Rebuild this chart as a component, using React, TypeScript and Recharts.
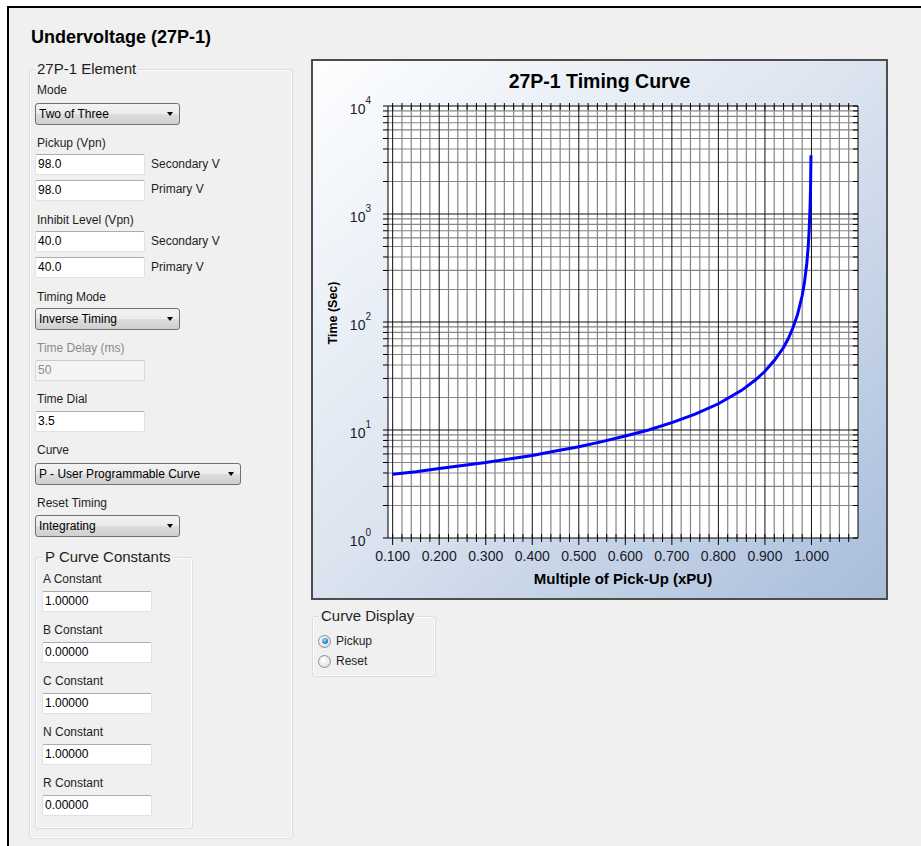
import React from 'react';
import { LineChart, Line, XAxis, YAxis, ReferenceLine, CartesianGrid } from 'recharts';

// ---- data ----
const pickupMultiples = [0.10, 0.15, 0.20, 0.25, 0.30, 0.35, 0.40, 0.45, 0.50, 0.55, 0.60, 0.65, 0.70, 0.75, 0.80, 0.85, 0.88, 0.90, 0.92, 0.94, 0.95, 0.96, 0.97, 0.98, 0.985, 0.99, 0.993, 0.995, 0.997, 0.998, 0.999];
const timeSeconds = [3.9, 4.1, 4.4, 4.7, 5.0, 5.4, 5.8, 6.4, 7.0, 7.8, 8.8, 10.0, 11.7, 14.0, 17.5, 23.3, 29.2, 35, 44, 58, 70, 88, 117, 175, 233, 350, 500, 700, 1170, 1750, 3500];

// ---- axes / grid ----
const xDomain = [0.09, 1.1];
const xGridMajor = [0.1, 0.2, 0.3, 0.4, 0.5, 0.6, 0.7, 0.8, 0.9, 1.0];
const xTickLabels = ['0.100', '0.200', '0.300', '0.400', '0.500', '0.600', '0.700', '0.800', '0.900', '1.000'];
const xGridMinor = [0.12, 0.14, 0.16, 0.18, 0.22, 0.24, 0.26, 0.28, 0.32, 0.34, 0.36, 0.38, 0.42, 0.44, 0.46, 0.48, 0.52, 0.54, 0.56, 0.58, 0.62, 0.64, 0.66, 0.68, 0.72, 0.74, 0.76, 0.78, 0.82, 0.84, 0.86, 0.88, 0.92, 0.94, 0.96, 0.98, 1.02, 1.04, 1.06, 1.08];
const yDomain = [1, 10000];
const yDecades = [1, 10, 100, 1000, 10000];
const yTickExponents = ['0', '1', '2', '3', '4'];
const yGridMajor = [10, 100, 1000];
const yGridMinor = [2, 3, 4, 5, 6, 7, 8, 9, 20, 30, 40, 50, 60, 70, 80, 90, 200, 300, 400, 500, 600, 700, 800, 900, 2000, 3000, 4000, 5000, 6000, 7000, 8000, 9000];

const chartData = pickupMultiples.map((m, i) => ({ m, t: timeSeconds[i] }));
const xTicks = [...xGridMajor, ...xGridMinor].sort((a, b) => a - b);
const yTicks = [...yDecades, ...yGridMinor].sort((a, b) => a - b);

const FONT = '"Liberation Sans", Arial, sans-serif';
const TXT = '#1e1e1e';

const idxIn = (arr: number[], v: number) => arr.findIndex((a) => Math.abs(a - v) < 1e-6);

function BottomTick(props: any) {
  const { x, y, payload } = props;
  const i = idxIn(xGridMajor, payload.value);
  const major = i >= 0;
  return (
    <g>
      <line x1={x} x2={x} y1={y - 4} y2={y + (major ? 7 : 4)} stroke="#000" strokeWidth={1} />
      {major && (
        <text x={x} y={y + 23} textAnchor="middle" fontFamily={FONT} fontSize={14} fill="#1a1a2a">
          {xTickLabels[i]}
        </text>
      )}
    </g>
  );
}

function TopTick(props: any) {
  const { x, y } = props;
  return <line x1={x} x2={x} y1={y - 3} y2={y + 4} stroke="#000" strokeWidth={1} />;
}

function LeftTick(props: any) {
  const { x, y, payload } = props;
  const i = idxIn(yDecades, payload.value);
  return (
    <g>
      <line x1={x - 5} x2={x} y1={y} y2={y} stroke="#000" strokeWidth={1} />
      {i >= 0 && (
        <text x={x - 17} y={y + 7.5} textAnchor="end" fontFamily={FONT} fontSize={14} fill="#1a1a2a">
          <tspan>10</tspan>
          <tspan dy={-10} fontSize={10}>{yTickExponents[i]}</tspan>
        </text>
      )}
    </g>
  );
}

function RightTick(props: any) {
  const { x, y } = props;
  return <line x1={x - 5} x2={x} y1={y} y2={y} stroke="#000" strokeWidth={1} />;
}

function Lbl({ x, cy, text, color = TXT, size = 12 }: any) {
  return (
    <div style={{ position: 'absolute', left: x, top: cy - 8, height: 16, lineHeight: '16px', fontSize: size, fontFamily: FONT, color, whiteSpace: 'nowrap' }}>
      {text}
    </div>
  );
}

function TextBox({ x, y, w = 110, h = 21, value, disabled = false }: any) {
  return (
    <div
      style={{
        position: 'absolute', left: x, top: y, width: w, height: h, boxSizing: 'border-box',
        background: disabled ? '#f4f4f4' : '#ffffff',
        border: '1px solid ' + (disabled ? '#d9d9d9' : '#dde2e8'),
        borderTopColor: disabled ? '#cccccc' : '#abadb3',
        borderRadius: 2, fontFamily: FONT, fontSize: 12, lineHeight: h - 2 + 'px', paddingLeft: 2,
        color: disabled ? '#8d8d8d' : '#000', whiteSpace: 'nowrap',
      }}
    >
      {value}
    </div>
  );
}

function Combo({ x, y, w, h = 22, value }: any) {
  return (
    <div
      style={{
        position: 'absolute', left: x, top: y, width: w, height: h, boxSizing: 'border-box',
        border: '1px solid #707070', borderRadius: 3,
        background: 'linear-gradient(to bottom, #f3f3f3 0%, #ebebeb 50%, #dddddd 51%, #cfcfcf 100%)',
        fontFamily: FONT, fontSize: 12, lineHeight: h - 2 + 'px', paddingLeft: 3, color: '#000', whiteSpace: 'nowrap',
      }}
    >
      {value}
      <div
        style={{
          position: 'absolute', right: 6, top: (h - 2) / 2 - 2, width: 0, height: 0,
          borderLeft: '3.5px solid transparent', borderRight: '3.5px solid transparent', borderTop: '4px solid #000',
        }}
      />
    </div>
  );
}

function GroupBox({ x, y, w, h, title, tx }: any) {
  return (
    <div style={{ position: 'absolute', left: x, top: y, width: w, height: h, boxSizing: 'border-box', border: '1px solid #d5dfe5', borderRadius: 3, boxShadow: 'inset 0 0 0 1px #fbfcfd' }}>
      <div style={{ position: 'absolute', left: tx, top: -11, height: 20, lineHeight: '20px', padding: '0 2px', background: '#f0f0f0', fontFamily: FONT, fontSize: 15, color: TXT, whiteSpace: 'nowrap' }}>
        {title}
      </div>
    </div>
  );
}

function Radio({ x, cy, label, checked }: any) {
  return (
    <div>
      <div
        style={{
          position: 'absolute', left: x, top: cy - 6.5, width: 13, height: 13, boxSizing: 'border-box', borderRadius: '50%',
          border: '1px solid #8e8f8f', background: 'radial-gradient(circle at 40% 40%, #ffffff 0%, #e6e6e6 60%, #cfcfcf 100%)',
        }}
      >
        {checked && (
          <div style={{ position: 'absolute', left: 2.5, top: 2.5, width: 6, height: 6, borderRadius: '50%', background: 'radial-gradient(circle at 40% 35%, #9ee0ff 0%, #2d8bd4 55%, #0f4f8c 100%)' }} />
        )}
      </div>
      <Lbl x={x + 18} cy={cy} text={label} />
    </div>
  );
}

export default function App() {
  return (
    <div style={{ position: 'absolute', left: 0, top: 0, width: 921, height: 846, overflow: 'hidden', background: '#ffffff' }}>
      <div style={{ position: 'absolute', left: 7, top: 6, right: 0, bottom: 0, background: '#f0f0f0', borderLeft: '2px solid #000', borderTop: '2px solid #000' }} />

      {/* page title */}
      <div style={{ position: 'absolute', left: 31, top: 27, height: 20, lineHeight: '20px', fontFamily: FONT, fontSize: 18, fontWeight: 'bold', color: '#000', whiteSpace: 'nowrap' }}>
        Undervoltage (27P-1)
      </div>

      {/* element group */}
      <GroupBox x={29} y={69} w={264} h={770} title="27P-1 Element" tx={5} />
      <Lbl x={37} cy={90} text="Mode" />
      <Combo x={35} y={103} w={145} value="Two of Three" />

      <Lbl x={37} cy={143} text="Pickup (Vpn)" />
      <TextBox x={35} y={154} value="98.0" />
      <Lbl x={151} cy={164} text="Secondary V" />
      <TextBox x={35} y={180} value="98.0" />
      <Lbl x={151} cy={189} text="Primary V" />

      <Lbl x={37} cy={220} text="Inhibit Level (Vpn)" />
      <TextBox x={35} y={231} value="40.0" />
      <Lbl x={151} cy={241} text="Secondary V" />
      <TextBox x={35} y={257} value="40.0" />
      <Lbl x={151} cy={267} text="Primary V" />

      <Lbl x={37} cy={297} text="Timing Mode" />
      <Combo x={35} y={308} w={145} value="Inverse Timing" />

      <Lbl x={37} cy={348} text="Time Delay (ms)" color="#8a8a8a" />
      <TextBox x={35} y={360} value="50" disabled />

      <Lbl x={37} cy={399} text="Time Dial" />
      <TextBox x={35} y={411} value="3.5" />

      <Lbl x={37} cy={450} text="Curve" />
      <Combo x={35} y={463} w={206} value="P - User Programmable Curve" />

      <Lbl x={37} cy={503} text="Reset Timing" />
      <Combo x={35} y={515} w={145} value="Integrating" />

      {/* P curve constants */}
      <GroupBox x={35} y={557} w={158} h={272} title="P Curve Constants" tx={7} />
      <Lbl x={43} cy={579} text="A Constant" />
      <TextBox x={42} y={591} value="1.00000" />
      <Lbl x={43} cy={630} text="B Constant" />
      <TextBox x={42} y={642} value="0.00000" />
      <Lbl x={43} cy={681} text="C Constant" />
      <TextBox x={42} y={693} value="1.00000" />
      <Lbl x={43} cy={732} text="N Constant" />
      <TextBox x={42} y={744} value="1.00000" />
      <Lbl x={43} cy={783} text="R Constant" />
      <TextBox x={42} y={795} value="0.00000" />

      {/* chart panel */}
      <div
        style={{
          position: 'absolute', left: 311, top: 59, width: 577, height: 541, boxSizing: 'border-box',
          border: '2px solid #4d4d4d',
          background: 'linear-gradient(to bottom right, #fdfeff 0%, #dae3ef 50%, #a8bddb 100%)',
        }}
      />
      <div style={{ position: 'absolute', left: 311, top: 59, width: 577, height: 541 }}>
        <LineChart width={577} height={541} data={chartData} margin={{ top: 46, right: 29, bottom: 61, left: 76 }}>
          <CartesianGrid fill="#ffffff" horizontal={false} vertical={false} />
          {xGridMinor.map((v) => (
            <ReferenceLine key={'xm' + v} x={v} stroke="#858585" strokeWidth={1.2} />
          ))}
          {yGridMinor.map((v) => (
            <ReferenceLine key={'ym' + v} y={v} stroke="#858585" strokeWidth={1.2} />
          ))}
          {xGridMajor.map((v) => (
            <ReferenceLine key={'xM' + v} x={v} stroke="#111111" strokeWidth={1} />
          ))}
          {yGridMajor.map((v) => (
            <ReferenceLine key={'yM' + v} y={v} stroke="#111111" strokeWidth={1} />
          ))}
          <XAxis
            dataKey="m" type="number" domain={xDomain} ticks={xTicks} interval={0} allowDataOverflow
            tick={<BottomTick />} tickLine={false} tickSize={0} tickMargin={0} height={1}
            axisLine={{ stroke: '#000', strokeWidth: 1 }}
          />
          <XAxis
            xAxisId="top" dataKey="m" orientation="top" type="number" domain={xDomain} ticks={xTicks} interval={0} allowDataOverflow
            tick={<TopTick />} tickLine={false} tickSize={0} tickMargin={0} height={1}
            axisLine={{ stroke: '#000', strokeWidth: 1 }}
          />
          <YAxis
            dataKey="t" type="number" scale="log" domain={yDomain} ticks={yTicks} interval={0} allowDataOverflow
            tick={<LeftTick />} tickLine={false} tickSize={0} tickMargin={0} width={1}
            axisLine={{ stroke: '#000', strokeWidth: 1 }}
          />
          <YAxis
            yAxisId="right" dataKey="t" orientation="right" type="number" scale="log" domain={yDomain} ticks={yTicks} interval={0} allowDataOverflow
            tick={<RightTick />} tickLine={false} tickSize={0} tickMargin={0} width={1}
            axisLine={{ stroke: '#000', strokeWidth: 1 }}
          />
          <Line type="linear" dataKey="t" stroke="#0000ff" strokeWidth={3} dot={false} activeDot={false} isAnimationActive={false} />
        </LineChart>
      </div>

      {/* chart texts */}
      <div style={{ position: 'absolute', left: 311, top: 70, width: 577, height: 22, lineHeight: '22px', textAlign: 'center', fontFamily: FONT, fontSize: 19.5, fontWeight: 'bold', color: '#000' }}>
        27P-1 Timing Curve
      </div>
      <div style={{ position: 'absolute', left: 423, top: 570, width: 400, height: 18, lineHeight: '18px', textAlign: 'center', fontFamily: FONT, fontSize: 15, fontWeight: 'bold', color: '#000' }}>
        Multiple of Pick-Up (xPU)
      </div>
      <div style={{ position: 'absolute', left: 273, top: 305, width: 120, height: 16, lineHeight: '16px', textAlign: 'center', fontFamily: FONT, fontSize: 12.5, fontWeight: 'bold', color: '#000', transform: 'rotate(-90deg)', transformOrigin: '50% 50%' }}>
        Time (Sec)
      </div>

      {/* curve display */}
      <GroupBox x={312} y={616} w={124} h={61} title="Curve Display" tx={6} />
      <Radio x={318} cy={641} label="Pickup" checked />
      <Radio x={318} cy={661} label="Reset" checked={false} />
    </div>
  );
}
